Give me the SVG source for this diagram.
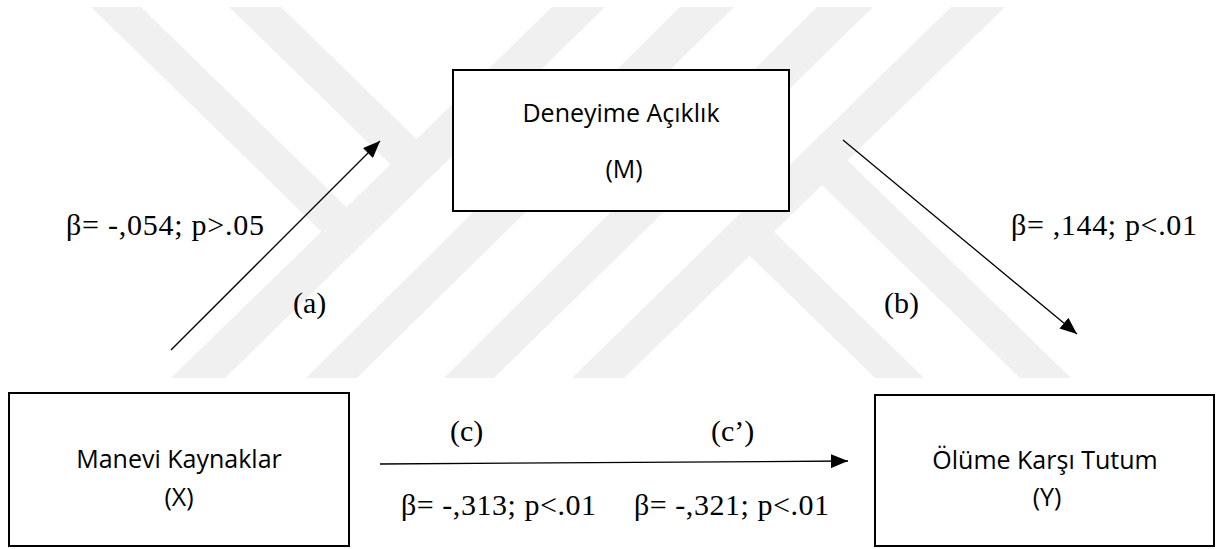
<svg xmlns="http://www.w3.org/2000/svg" width="1216" height="549" viewBox="0 0 1216 549">
  <style>
    .box { fill: #ffffff; stroke: #000000; stroke-width: 2; }
    .lbl { font-family: "Open Sans", "Noto Sans", sans-serif; font-size: 25px; fill: #000000; text-anchor: middle; }
    .stat { font-family: "Liberation Serif", "Times New Roman", serif; font-size: 30px; fill: #000000; }
    .conn { stroke: #000000; stroke-width: 1.3; fill: none; marker-end: url(#arrow); }
    .wm { fill: #f0f0f0; }
  </style>
  <defs>
    <marker id="arrow" markerUnits="userSpaceOnUse" markerWidth="18" markerHeight="14" refX="17" refY="7" orient="auto">
      <path d="M0,0 L17,7 L0,14 z" fill="#000000"/>
    </marker>
  </defs>
  <rect width="1216" height="549" fill="#ffffff"/>
  <g id="watermark">
    <polygon class="wm" points="552,7 605,7 225,378 171,378"/>
    <polygon class="wm" points="680,7 734,7 357,378 306,378"/>
    <polygon class="wm" points="817,7 873,7 494,378 444,378"/>
    <polygon class="wm" points="951,7 1005,7 624,378 572,378"/>
    <polygon class="wm" points="91,7 141,7 359.8,220.3 334.8,244.7"/>
    <polygon class="wm" points="229,7 281,7 429.8,152.1 403.8,177.4"/>
    <polygon class="wm" points="875,378 924,378 761,219.1 736.5,243"/>
    <polygon class="wm" points="1020,378 1071,378 834.5,147.4 809,172.3"/>
  </g>
  <g id="connectors">
    <line class="conn" x1="171" y1="350" x2="380" y2="141"/>
    <line class="conn" x1="843" y1="140" x2="1077" y2="334"/>
    <line class="conn" x1="380" y1="464" x2="848" y2="461"/>
  </g>
  <g id="node-M">
    <rect class="box" x="453" y="70" width="336" height="141"/>
    <text class="lbl" x="621" y="122">Deneyime Açıklık</text>
    <text class="lbl" x="624" y="178">(M)</text>
  </g>
  <g id="node-X">
    <rect class="box" x="9" y="393" width="340" height="153"/>
    <text class="lbl" x="179" y="468">Manevi Kaynaklar</text>
    <text class="lbl" x="179" y="506">(X)</text>
  </g>
  <g id="node-Y">
    <rect class="box" x="875" y="395" width="339" height="151"/>
    <text class="lbl" x="1045" y="469">Ölüme Karşı Tutum</text>
    <text class="lbl" x="1047" y="506">(Y)</text>
  </g>
  <g id="labels">
    <text class="stat" x="66" y="235" textLength="198" lengthAdjust="spacing">β= -,054; p&gt;.05</text>
    <text class="stat" x="1011" y="235" textLength="186" lengthAdjust="spacing">β= ,144; p&lt;.01</text>
    <text class="stat" x="293" y="313">(a)</text>
    <text class="stat" x="884" y="313">(b)</text>
    <text class="stat" x="450" y="441">(c)</text>
    <text class="stat" x="711" y="441">(c’)</text>
    <text class="stat" x="401" y="515" textLength="195" lengthAdjust="spacing">β= -,313; p&lt;.01</text>
    <text class="stat" x="634" y="515" textLength="195" lengthAdjust="spacing">β= -,321; p&lt;.01</text>
  </g>
</svg>
